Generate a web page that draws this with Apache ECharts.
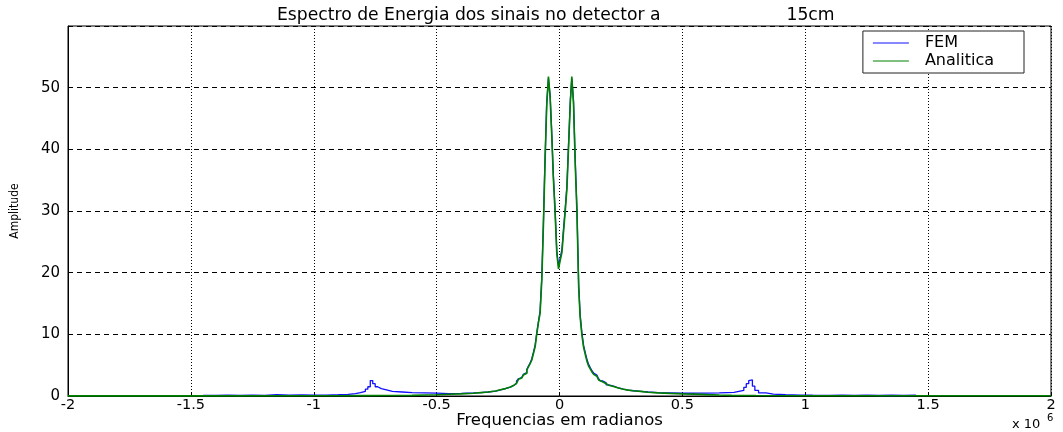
<!DOCTYPE html>
<html>
<head>
<meta charset="utf-8">
<script src="https://cdn.jsdelivr.net/npm/echarts@6/dist/echarts.min.js"></script>
<style>
html,body{margin:0;padding:0;background:#fff;}
#chart{width:1063px;height:432px;}
</style>
</head>
<body>
<div id="chart"></div>
<script>
// x in units of 10^6 rad
const xCenter = [-0.167,-0.161,-0.154,-0.147,-0.140,-0.133,-0.127,-0.120,-0.113,-0.106,-0.099,-0.093,-0.086,-0.079,-0.072,-0.065,-0.059,-0.052,-0.045,-0.038,-0.031,-0.025,-0.018,-0.011,-0.004,0.003,0.010,0.016,0.023,0.030,0.037,0.044,0.050,0.057,0.064,0.071,0.078,0.084,0.091,0.098,0.105,0.112,0.118,0.125,0.132,0.139,0.146,0.152,0.159];
const analiticaCenter = [2.7,2.9,3.1,3.4,3.7,4.2,4.7,5.2,5.8,6.9,8.0,9.9,11.8,13.4,18.8,28.3,37.7,47.1,51.8,48.3,41.7,35.3,29.8,23.1,20.6,22.0,23.3,26.4,29.8,33.5,40.5,47.5,51.8,47.4,37.6,29.8,17.6,12.8,9.9,7.9,6.7,5.6,4.9,4.4,3.9,3.5,3.2,2.9,2.6];
const femCenter = [2.8,3.0,3.2,3.5,3.8,4.3,4.8,5.3,6.0,7.1,8.3,10.1,12.0,13.8,19.3,28.9,38.3,47.6,51.5,48.7,42.2,35.8,30.3,23.6,21.1,22.4,23.8,26.9,30.3,34.0,41.0,47.9,51.5,47.9,38.2,30.3,18.1,13.2,10.3,8.2,7.0,5.9,5.2,4.6,4.1,3.7,3.4,3.1,2.8];

const xAnaliticaLeft = [-2.0,-1.5,-1.0,-0.9,-0.8,-0.7,-0.6,-0.55,-0.5,-0.45,-0.4,-0.35,-0.32,-0.29,-0.26,-0.24,-0.22,-0.2,-0.185,-0.175];
const analiticaLeft = [0.02,0.03,0.05,0.06,0.08,0.1,0.15,0.2,0.28,0.35,0.45,0.55,0.65,0.8,1.0,1.2,1.45,1.75,2.05,2.35];
const xAnaliticaRight = [0.166,0.175,0.19,0.2,0.22,0.24,0.26,0.28,0.3,0.33,0.36,0.4,0.45,0.5,0.55,0.6,0.65,0.7,0.8,1.0,1.5,2.0];
const analiticaRight = [2.3,2.0,1.75,1.55,1.3,1.1,0.95,0.85,0.75,0.6,0.5,0.42,0.35,0.3,0.22,0.15,0.1,0.07,0.05,0.04,0.03,0.02];

const xFemLeft = [-1.45,-1.4,-1.35,-1.3,-1.25,-1.2,-1.15,-1.1,-1.05,-1.0,-0.95,-0.9,-0.86,-0.83,-0.81,-0.79,-0.78,-0.77,-0.76,-0.75,-0.74,-0.725,-0.7,-0.68,-0.64,-0.6,-0.55,-0.5,-0.45,-0.4,-0.35,-0.32,-0.29,-0.26,-0.24,-0.22,-0.2,-0.185,-0.175];
const femLeft = [0.1,0.15,0.08,0.15,0.1,0.2,0.12,0.18,0.12,0.15,0.2,0.25,0.4,0.55,0.75,1.1,1.5,2.5,2.0,1.5,1.2,0.95,0.75,0.65,0.55,0.5,0.45,0.4,0.42,0.5,0.55,0.65,0.8,1.0,1.2,1.45,1.75,2.05,2.4];
const xFemRight = [0.166,0.175,0.19,0.2,0.22,0.24,0.26,0.28,0.3,0.33,0.36,0.4,0.45,0.5,0.55,0.6,0.65,0.68,0.71,0.73,0.75,0.76,0.77,0.775,0.785,0.795,0.81,0.84,0.87,0.92,0.98,1.03,1.1,1.15,1.2,1.25,1.3,1.35,1.4,1.45];
const femRight = [2.45,2.15,1.8,1.6,1.3,1.1,0.95,0.85,0.75,0.65,0.55,0.5,0.45,0.45,0.48,0.5,0.55,0.6,0.75,0.9,1.4,2.0,2.5,2.6,1.6,0.9,0.5,0.3,0.2,0.15,0.12,0.1,0.15,0.1,0.15,0.08,0.12,0.08,0.12,0.1];

const xTicks = [-2,-1.5,-1,-0.5,0,0.5,1,1.5,2];
const yTicks = [0,10,20,30,40,50];

function pairs(xs, ys){ return xs.map((x,i)=>[x, ys[i]]); }
const femData = pairs(xFemLeft, femLeft).concat(pairs(xCenter, femCenter), pairs(xFemRight, femRight));
const analiticaData = pairs(xAnaliticaLeft, analiticaLeft).concat(pairs(xCenter, analiticaCenter), pairs(xAnaliticaRight, analiticaRight));

const FONT = 'DejaVu Sans';
const chart = echarts.init(document.getElementById('chart'), null, {renderer:'canvas'});
chart.setOption({
  animation:false,
  backgroundColor:'#fff',
  title:{
    text:'{a|Espectro de Energia dos sinais no detector a}{b|15cm}',
    left:272, top:2,
    textStyle:{fontFamily:FONT,fontWeight:'normal',fontSize:16,rich:{
      a:{fontFamily:FONT,fontSize:17.2,fontWeight:'normal',color:'#000'},
      b:{fontFamily:FONT,fontSize:17.2,fontWeight:'normal',color:'#000',padding:[0,0,0,126]}
    }}
  },
  legend:{
    orient:'vertical', right:39, top:31,
    data:['FEM','Analitica'],
    icon:'rect',
    itemWidth:36, itemHeight:1, itemGap:2,
    backgroundColor:'#fff', borderColor:'#222', borderWidth:1, borderRadius:0,
    padding:[4,30,4,10],
    textStyle:{fontFamily:FONT,fontSize:16,color:'#000',padding:[0,0,0,11]}
  },
  grid:{left:68, right:12, top:26, bottom:36, outerBoundsMode:'none', containLabel:false,
    show:true, borderColor:'#000', borderWidth:1, backgroundColor:'transparent'},
  xAxis:{
    type:'value', min:-2, max:2, interval:0.5,
    name:'Frequencias em radianos', nameLocation:'middle', nameGap:16, nameMoveOverlap:false,
    nameTextStyle:{fontFamily:FONT,fontSize:16.5,color:'#000',verticalAlign:'top'},
    axisLine:{onZero:false,lineStyle:{color:'#000'}},
    axisTick:{inside:true,length:4,lineStyle:{color:'#000'}},
    axisLabel:{fontFamily:FONT,fontSize:14.5,color:'#000',margin:2,
      formatter:v=>xTicks.includes(v)?String(v):''},
    splitLine:{show:true,lineStyle:{color:'#000',type:[1,2],width:1}}
  },
  yAxis:{
    type:'value', min:0, max:60, interval:10,
    name:'Amplitude', nameLocation:'middle', nameGap:47, nameMoveOverlap:false,
    nameTextStyle:{fontFamily:'Liberation Sans Narrow, DejaVu Sans Condensed',fontSize:12,color:'#000'},
    axisLine:{onZero:false,lineStyle:{color:'#000'}},
    axisTick:{inside:true,length:4,lineStyle:{color:'#000'}},
    axisLabel:{fontFamily:FONT,fontSize:15,color:'#000',margin:8,
      formatter:v=>yTicks.includes(v)?String(v):''},
    splitLine:{show:true,lineStyle:{color:'#000',type:[5,4],width:1}}
  },
  graphic:[
    {type:'text', left:1012, top:418, style:{text:'x 10', fontFamily:FONT, fontSize:13, fill:'#000'}},
    {type:'text', left:1047, top:413, style:{text:'6', fontFamily:FONT, fontSize:10, fill:'#000'}}
  ],
  series:[
    {name:'FEM', type:'line', step:'end', data:femData, symbol:'none', clip:false,
      lineStyle:{color:'#1010ff',width:1.3}, itemStyle:{color:'#1010ff'}},
    {name:'Analitica', type:'line', step:'end', data:analiticaData, symbol:'none', clip:false,
      lineStyle:{color:'#008000',width:1.6}, itemStyle:{color:'#008000'}}
  ]
});
</script>
</body>
</html>
